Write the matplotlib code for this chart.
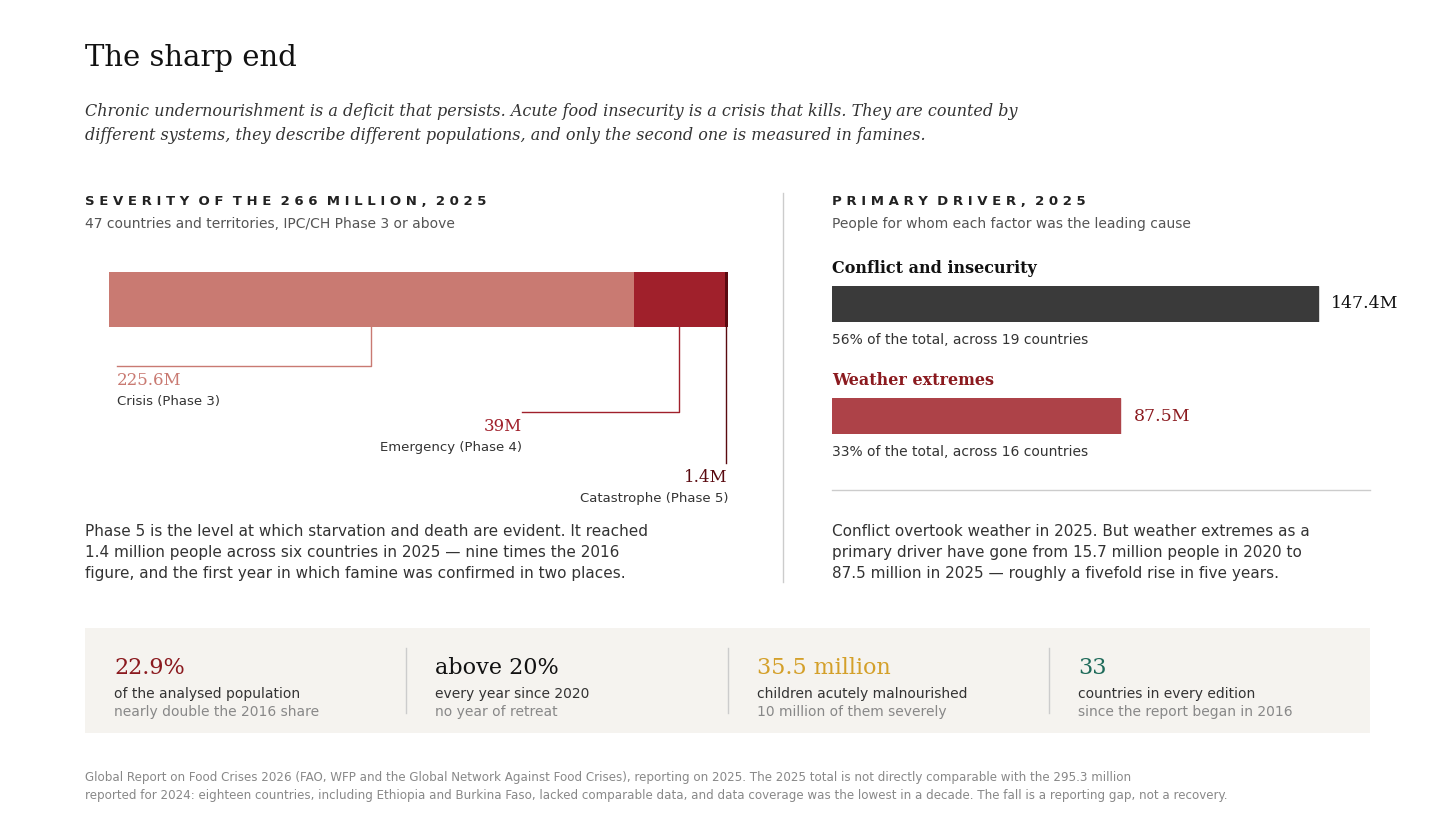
import matplotlib.pyplot as plt
from matplotlib.patches import Rectangle

W, H = 1456, 813

phases = ['Crisis (Phase 3)', 'Emergency (Phase 4)', 'Catastrophe (Phase 5)']
phase_values = [225.6, 39, 1.4]
phase_labels = ['225.6M', '39M', '1.4M']
phase_colors = ['#c97a72', '#a0202b', '#5a0a10']

drivers = ['Conflict and insecurity', 'Weather extremes']
driver_values = [147.4, 87.5]
driver_labels = ['147.4M', '87.5M']
driver_notes = ['56% of the total, across 19 countries', '33% of the total, across 16 countries']
driver_colors = ['#3a3a3a', '#ad4248']
driver_title_colors = ['#111111', '#8b1a1f']

stat_big = ['22.9%', 'above 20%', '35.5 million', '33']
stat_line1 = ['of the analysed population', 'every year since 2020',
              'children acutely malnourished', 'countries in every edition']
stat_line2 = ['nearly double the 2016 share', 'no year of retreat',
              '10 million of them severely', 'since the report began in 2016']
stat_colors = ['#8b1a1f', '#111111', '#d4a02a', '#1f6b5a']

SERIF = 'DejaVu Serif'
fig = plt.figure(figsize=(W / 100, H / 100), dpi=100)
fig.patch.set_facecolor('white')
ov = fig.add_axes([0, 0, 1, 1])
ov.set_xlim(0, W)
ov.set_ylim(H, 0)
ov.axis('off')

def px_axes(x0, y0, x1, y1):
    return fig.add_axes([x0 / W, 1 - y1 / H, (x1 - x0) / W, (y1 - y0) / H])

# header
ov.text(85, 58, 'The sharp end', family=SERIF, fontsize=21, color='#111', va='center')
ov.text(85, 111, 'Chronic undernourishment is a deficit that persists. Acute food insecurity is a crisis that kills. They are counted by',
        family=SERIF, style='italic', fontsize=11.5, color='#333', va='center')
ov.text(85, 136, 'different systems, they describe different populations, and only the second one is measured in famines.',
        family=SERIF, style='italic', fontsize=11.5, color='#333', va='center')

# left panel
ov.text(85, 201, 'S E V E R I T Y   O F   T H E   2 6 6   M I L L I O N ,   2 0 2 5'.replace('   ', '  '),
        fontsize=9.5, weight='bold', color='#222', va='center')
ov.text(85, 224, '47 countries and territories, IPC/CH Phase 3 or above', fontsize=10, color='#555', va='center')

bx0, bx1 = 109, 109 + 266 * 2.327
ax1 = px_axes(bx0, 272, bx1, 327)
total = sum(phase_values)
left = 0
mids = []
for v, c in zip(phase_values, phase_colors):
    ax1.barh(0, v, left=left, color=c, height=1)
    mids.append(left + v / 2)
    left += v
ax1.set_xlim(0, total)
ax1.set_ylim(-0.5, 0.5)
ax1.axis('off')

def xm(v):
    return bx0 + v / total * (bx1 - bx0)

lc = '#8b1a1f'
# crisis
mx = xm(mids[0])
ov.plot([mx, mx, 117], [327, 366, 366], color=phase_colors[0], lw=1)
ov.text(117, 380, phase_labels[0], family=SERIF, fontsize=12, color=phase_colors[0], va='center')
ov.text(117, 401, phases[0], fontsize=9.5, color='#333', va='center')
# emergency
mx = xm(mids[1])
ov.plot([mx, mx, 522], [327, 412, 412], color=phase_colors[1], lw=1)
ov.text(522, 426, phase_labels[1], family=SERIF, fontsize=12, color=phase_colors[1], va='center', ha='right')
ov.text(522, 447, phases[1], fontsize=9.5, color='#333', va='center', ha='right')
# catastrophe
mx = xm(total - phase_values[2] / 2)
ov.plot([mx, mx], [327, 463], color=phase_colors[2], lw=1)
ov.text(728, 477, phase_labels[2], family=SERIF, fontsize=12, color=phase_colors[2], va='center', ha='right')
ov.text(728, 498, phases[2], fontsize=9.5, color='#333', va='center', ha='right')

for i, s in enumerate(['Phase 5 is the level at which starvation and death are evident. It reached',
                       '1.4 million people across six countries in 2025 \u2014 nine times the 2016',
                       'figure, and the first year in which famine was confirmed in two places.']):
    ov.text(85, 531 + i * 21, s, fontsize=11, color='#333', va='center')

ov.plot([783, 783], [193, 582], color='#ccc', lw=1)

# right panel
ov.text(832, 201, 'P R I M A R Y   D R I V E R ,   2 0 2 5'.replace('   ', '  '),
        fontsize=9.5, weight='bold', color='#222', va='center')
ov.text(832, 224, 'People for whom each factor was the leading cause', fontsize=10, color='#555', va='center')

k = 3.297
rows = [(286, 322), (398, 434)]
for i, (v, (y0, y1)) in enumerate(zip(driver_values, rows)):
    ax = px_axes(832, y0, 832 + 160 * k, y1)
    ax.barh(0, v, color=driver_colors[i], height=1, edgecolor=driver_colors[i])
    ax.set_xlim(0, 160)
    ax.set_ylim(-0.5, 0.5)
    ax.axis('off')
    ax.text(v + 4, 0, driver_labels[i], family=SERIF, fontsize=12.5, va='center',
            color=driver_title_colors[i])
    ov.text(832, y0 - 18, drivers[i], family=SERIF, fontsize=11.5, weight='bold',
            color=driver_title_colors[i], va='center')
    ov.text(832, y1 + 18, driver_notes[i], fontsize=10, color='#333', va='center')

ov.plot([832, 1370], [490, 490], color='#ccc', lw=1)
for i, s in enumerate(['Conflict overtook weather in 2025. But weather extremes as a',
                       'primary driver have gone from 15.7 million people in 2020 to',
                       '87.5 million in 2025 \u2014 roughly a fivefold rise in five years.']):
    ov.text(832, 531 + i * 21, s, fontsize=11, color='#333', va='center')

# stats band
ov.add_patch(Rectangle((85, 628), 1285, 105, color='#f5f3ef', lw=0))
xs = [114, 435, 757, 1078]
for i, x in enumerate(xs):
    ov.text(x, 668, stat_big[i], family=SERIF, fontsize=16, color=stat_colors[i], va='center')
    ov.text(x, 694, stat_line1[i], fontsize=10, color='#333', va='center')
    ov.text(x, 712, stat_line2[i], fontsize=10, color='#888', va='center')
    if i:
        ov.plot([x - 29, x - 29], [648, 713], color='#ccc', lw=1)

ov.text(85, 777, 'Global Report on Food Crises 2026 (FAO, WFP and the Global Network Against Food Crises), reporting on 2025. The 2025 total is not directly comparable with the 295.3 million',
        fontsize=8.6, color='#888', va='center')
ov.text(85, 795, 'reported for 2024: eighteen countries, including Ethiopia and Burkina Faso, lacked comparable data, and data coverage was the lowest in a decade. The fall is a reporting gap, not a recovery.',
        fontsize=8.6, color='#888', va='center')

fig.savefig('out.png', dpi=100)
